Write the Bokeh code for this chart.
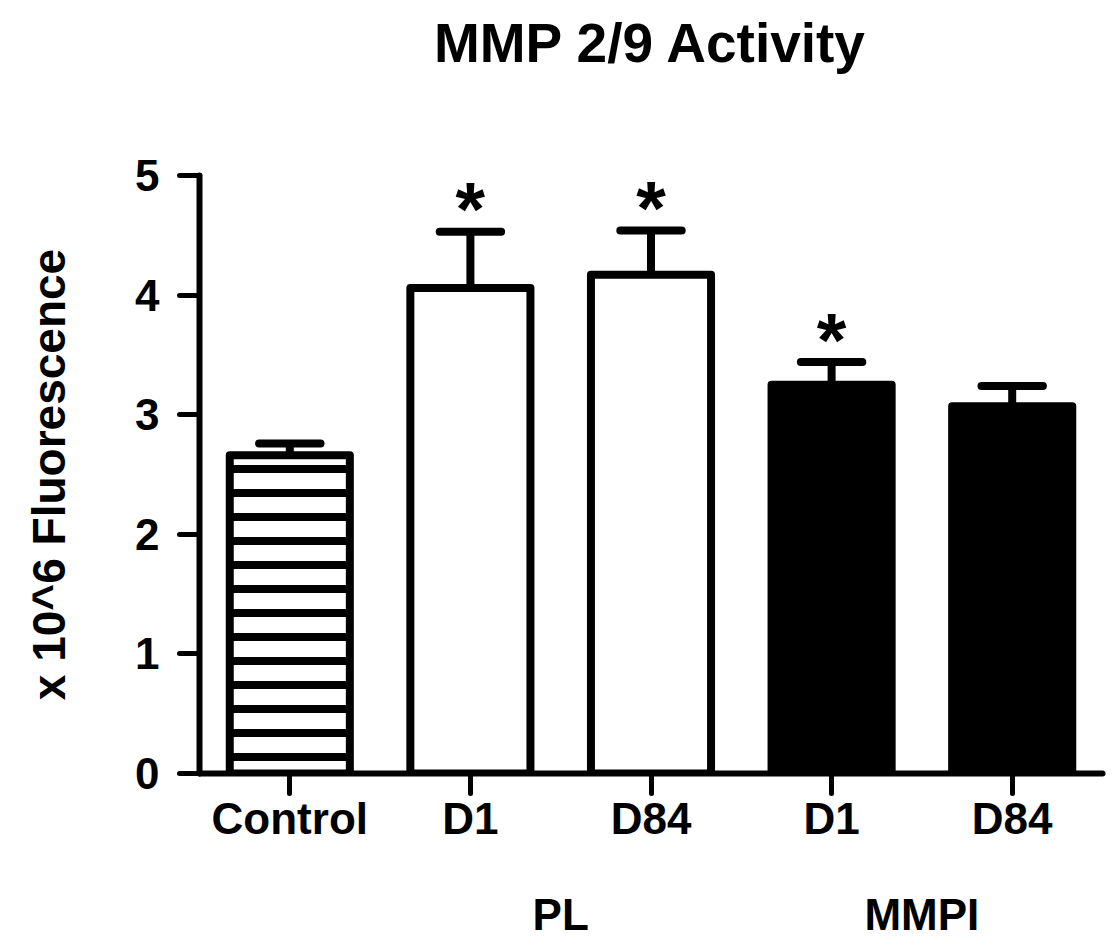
from bokeh.plotting import figure
from bokeh.models import ColumnDataSource, FixedTicker, LinearAxis, Range1d
from bokeh.core.properties import value
from bokeh.embed import file_html
from bokeh.resources import INLINE

# ---- data ----
categories = ["Control", "D1", "D84", "D1", "D84"]
groups = ["", "PL", "PL", "MMPI", "MMPI"]
means = [2.66, 4.06, 4.17, 3.25, 3.07]
sems = [0.10, 0.47, 0.37, 0.19, 0.17]
significant = [False, True, True, True, False]
fills = ["white", "white", "white", "black", "black"]
hatches = ["-", " ", " ", " ", " "]
y_ticks = [0, 1, 2, 3, 4, 5]
title_text = "MMP 2/9 Activity"
y_label = "x 10^6 Fluorescence"

FONT = "Liberation Sans"
xs = list(range(len(categories)))
uppers = [m + s for m, s in zip(means, sems)]
cap_half = 0.17

p = figure(width=1111, height=941,
           x_range=Range1d(-0.5, len(categories) - 0.5),
           y_range=Range1d(0, y_ticks[-1]),
           output_backend="svg", toolbar_location=None,
           title_location=None,
           min_border_left=199, min_border_right=9,
           min_border_top=175, min_border_bottom=165)
p.outline_line_color = None
p.grid.visible = False
p.background_fill_color = "white"
p.border_fill_color = "white"

# keep references to the main axes before adding extra ones
xax = p.xaxis[0]
yax = p.yaxis[0]

src = ColumnDataSource(dict(
    x=xs, top=means, upper=uppers, fill=fills, hatch=hatches,
    lo=[x - cap_half for x in xs], hi=[x + cap_half for x in xs],
))

p.vbar(x="x", top="top", bottom=0, width=0.665, source=src,
       fill_color="fill", line_color="black", line_width=8, line_join="round",
       hatch_pattern="hatch", hatch_color="black", hatch_weight=8,
       hatch_scale=24, hatch_alpha=1.0)

# error bars (upper only)
p.segment(x0="x", y0="top", x1="x", y1="upper", source=src,
          line_color="black", line_width=8)
p.segment(x0="lo", y0="upper", x1="hi", y1="upper", source=src,
          line_color="black", line_width=8, line_cap="round")

# significance asterisks
sig_src = ColumnDataSource(dict(
    x=[x for x, s in zip(xs, significant) if s],
    y=[u for u, s in zip(uppers, significant) if s],
    t=["*" for s in significant if s],
))
p.text(x="x", y="y", text="t", source=sig_src, text_align="center",
       text_baseline="alphabetic", y_offset=-23,
       text_font=value(FONT), text_font_style="bold",
       text_font_size="76px", text_color="black")

# main axes styling
for ax in (xax, yax):
    ax.axis_line_width = 6
    ax.axis_line_color = "black"
    ax.axis_line_cap = "round"
    ax.major_tick_line_width = 5
    ax.major_tick_line_color = "black"
    ax.major_tick_line_cap = "round"
    ax.major_tick_out = 20
    ax.major_tick_in = 0
    ax.minor_tick_line_color = None
    ax.major_label_text_font = FONT
    ax.major_label_text_font_style = "bold"
    ax.major_label_text_font_size = "44px"
    ax.major_label_text_color = "black"

xax.ticker = FixedTicker(ticks=xs)
xax.major_label_overrides = {x: c for x, c in zip(xs, categories)}
xax.major_label_standoff = 0

yax.ticker = FixedTicker(ticks=y_ticks)
yax.major_label_standoff = 20
yax.axis_label = y_label
yax.axis_label_text_font = FONT
yax.axis_label_text_font_style = "bold"
yax.axis_label_text_font_size = "46px"
yax.axis_label_text_color = "black"
yax.axis_label_standoff = 57


def label_axis(ticks, labels, standoff, size):
    ax = LinearAxis(ticker=FixedTicker(ticks=ticks),
                    major_label_overrides={t: l for t, l in zip(ticks, labels)})
    ax.axis_line_color = None
    ax.major_tick_line_color = None
    ax.minor_tick_line_color = None
    ax.major_tick_out = 0
    ax.major_tick_in = 0
    ax.major_label_standoff = standoff
    ax.major_label_text_font = FONT
    ax.major_label_text_font_style = "bold"
    ax.major_label_text_font_size = size
    ax.major_label_text_color = "black"
    return ax


# chart title, as a label-only axis above the plot
title_pos = (xs[0] + xs[-1]) / 2
p.add_layout(label_axis([title_pos], [title_text], 102, "55px"), "above")

# group labels (second row below the category labels)
group_names = []
for g in groups:
    if g and g not in group_names:
        group_names.append(g)
group_pos = []
for g in group_names:
    members = [x for x, gg in zip(xs, groups) if gg == g]
    group_pos.append(sum(members) / len(members))
p.add_layout(label_axis(group_pos, group_names, 44, "44px"), "below")

open("out.html", "w").write(file_html(p, INLINE))
